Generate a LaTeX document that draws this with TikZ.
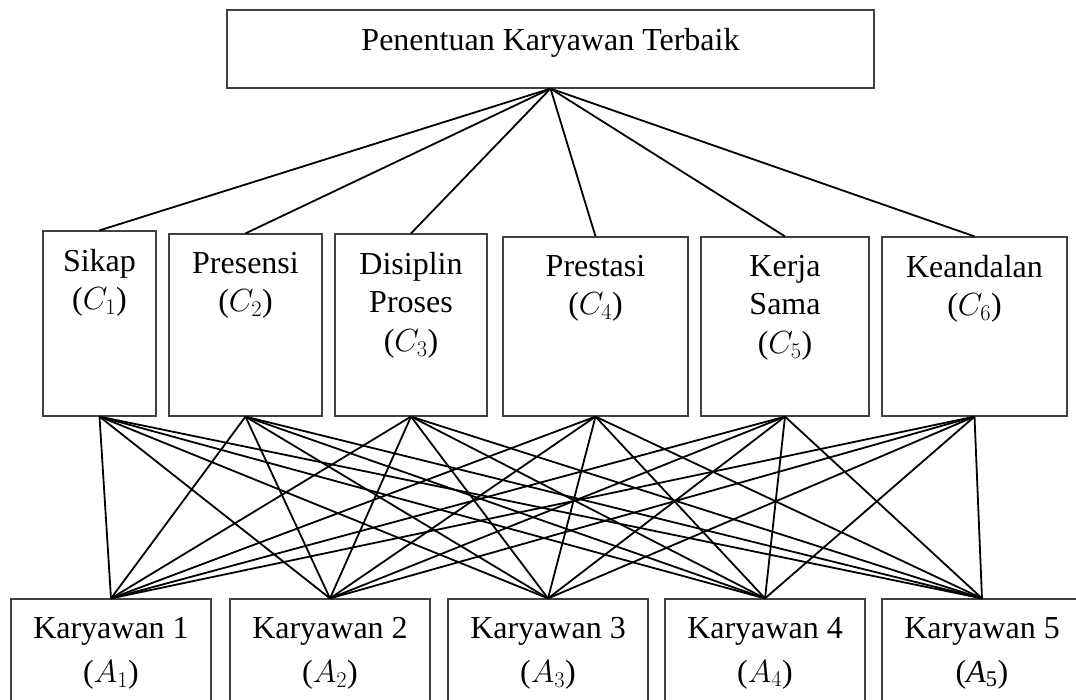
\documentclass[tikz,border=0pt]{standalone}
\usepackage{fix-cm}
\usepackage{fontspec}
\setmainfont{Liberation Serif}
\tikzset{
    box/.style={draw=black!75, line width=1.2pt, rectangle, inner sep=0pt},
    txt/.style={anchor=north, align=center, inner sep=0pt, yshift=-18.5pt},
    alttxt/.style={txt, font=\fontsize{32}{44}\selectfont},
    link/.style={line width=1.8pt}
}

\begin{document}
\begin{tikzpicture}[x=1pt, y=-1pt, font=\fontsize{32}{38.5}\selectfont]
\useasboundingbox (0,0) rectangle (1076,700);
% tujuan
\node[box, minimum width=647pt, minimum height=78pt, label={[txt]north:Penentuan Karyawan Terbaik}] (goal) at (550.5,49) {};
% kriteria
\node[box, minimum width=113pt, minimum height=185pt, label={[txt]north:Sikap\\($C_1$)}] (c1) at (99.5,323.5) {};
\node[box, minimum width=153pt, minimum height=182pt, label={[txt]north:Presensi\\($C_2$)}] (c2) at (245.5,325) {};
\node[box, minimum width=152pt, minimum height=182pt, label={[txt]north:Disiplin\\Proses\\($C_3$)}] (c3) at (411,325) {};
\node[box, minimum width=185pt, minimum height=179pt, label={[txt]north:Prestasi\\($C_4$)}] (c4) at (595.5,326.5) {};
\node[box, minimum width=168pt, minimum height=179pt, label={[txt]north:Kerja\\Sama\\($C_5$)}] (c5) at (785,326.5) {};
\node[box, minimum width=185pt, minimum height=179pt, label={[txt]north:Keandalan\\($C_6$)}] (c6) at (974.5,326.5) {};
% alternatif
\node[box, minimum width=200pt, minimum height=103pt, label={[alttxt]north:Karyawan 1\\($A_1$)}] (a1) at (111,650.5) {};
\node[box, minimum width=200pt, minimum height=103pt, label={[alttxt]north:Karyawan 2\\($A_2$)}] (a2) at (330,650.5) {};
\node[box, minimum width=200pt, minimum height=103pt, label={[alttxt]north:Karyawan 3\\($A_3$)}] (a3) at (548,650.5) {};
\node[box, minimum width=200pt, minimum height=103pt, label={[alttxt]north:Karyawan 4\\($A_4$)}] (a4) at (765,650.5) {};
\node[box, minimum width=200pt, minimum height=103pt, label={[alttxt]north:Karyawan 5\\(\textit{A}\textsubscript{5})}] (a5) at (982,650.5) {};
% garis
\foreach \c in {c1,c2,c3,c4,c5,c6}
    \draw[link] (goal.south) -- (\c.north);
\foreach \c in {c1,c2,c3,c4,c5,c6}
    \foreach \a in {a1,a2,a3,a4,a5}
        \draw[link] (\c.south) -- (\a.north);
\end{tikzpicture}
\end{document}
